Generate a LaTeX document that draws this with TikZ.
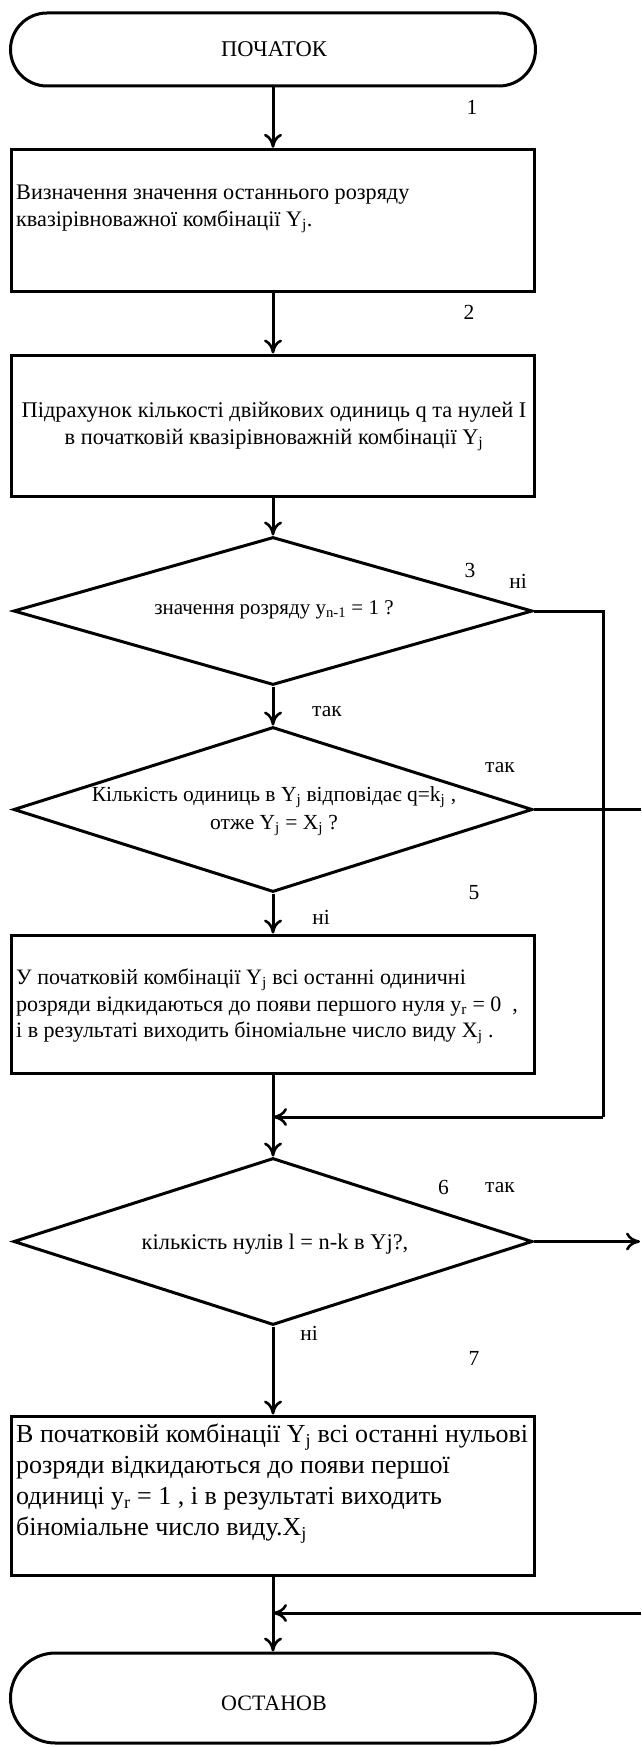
\documentclass[tikz,border=0pt]{standalone}
\usepackage{fontspec}
\setmainfont{Liberation Serif}
\usetikzlibrary{shapes.geometric,arrows.meta}
\tikzset{
  ln/.style={line width=3pt},
  arr/.style={ln,-{Computer Modern Rightarrow[length=14pt,width=18pt,line width=2.6pt]}},
  term/.style={draw,line width=3pt,minimum width=525pt,inner sep=0pt},
  proc/.style={draw,line width=3pt,minimum width=523pt,inner sep=0pt},
  decision/.style={draw,diamond,line width=3pt,minimum width=519pt,inner sep=0pt},
  txt/.style={inner sep=0pt},
  lbl/.style={inner sep=0pt,font=\fontsize{21.5}{25}\selectfont}
}
\begin{document}
\begin{tikzpicture}[x=1pt,y=-1pt]
\useasboundingbox (0,0) rectangle (641,1747);
% terminators
\node[term,rounded corners=36.5pt,minimum height=73pt] (start) at (273,49.5) {};
\node[txt,font=\fontsize{22.5}{26}\selectfont] (startt) at (274,49) {ПОЧАТОК};
\node[term,rounded corners=45pt,minimum height=90pt] (stop) at (273,1698) {};
\node[txt,font=\fontsize{22}{26}\selectfont] (stopt) at (274,1703) {ОСТАНОВ};
% process boxes
\node[proc,minimum height=142.4pt] (b1) at (273,220.5) {};
\node[txt,anchor=west,align=left,font=\fontsize{22.2}{26.5}\selectfont] (b1t) at (16,209) {Визначення значення останнього розряду\\квазірівноважної комбінації Y\textsubscript{j}.};
\node[proc,minimum height=141pt] (b2) at (273,425.5) {};
\node[txt,align=center,font=\fontsize{22.4}{27}\selectfont] (b2t) at (274,426.5) {Підрахунок кількості двійкових одиниць q та нулей I\\в початковій квазірівноважній комбінації Y\textsubscript{j}};
\node[proc,minimum height=138pt] (b3) at (273,1004) {};
\node[txt,anchor=west,align=left,font=\fontsize{22}{26.5}\selectfont] (b3t) at (16,1006.5) {У початковій комбінації Y\textsubscript{j} всі останні одиничні\\розряди відкидаються до появи першого нуля y\textsubscript{r} = 0\ \ ,\\і в результаті виходить біноміальне число виду X\textsubscript{j} .};
\node[proc,minimum height=159pt] (b4) at (273,1495.5) {};
\node[txt,anchor=west,align=left,font=\fontsize{26}{31}\selectfont] (b4t) at (16,1483.5) {В початковій комбінації Y\textsubscript{j} всі останні нульові\\розряди відкидаються до появи першої\\одиниці y\textsubscript{r} = 1 , і в результаті виходить\\біноміальне число виду.X\textsubscript{j}};
% decisions
\node[decision,minimum height=148pt] (d3) at (273,611) {};
\node[txt,font=\fontsize{21}{26}\selectfont] (d3t) at (274,610) {значення розряду y\textsubscript{n-1} = 1 ?};
\node[decision,minimum height=165pt] (d4) at (273,809.5) {};
\node[txt,align=center,font=\fontsize{21.5}{28}\selectfont] (d4t) at (274,811) {Кількість одиниць в Y\textsubscript{j} відповідає q=k\textsubscript{j} ,\\отже Y\textsubscript{j} = X\textsubscript{j} ?};
\node[decision,minimum height=167pt] (d6) at (273,1241.5) {};
\node[txt,font=\fontsize{22.4}{26}\selectfont] (d6t) at (275,1244) {кількість нулів l = n-k в Yj?,};
% helper coordinates
\coordinate (c3r) at (603,611);
\coordinate (c3d) at (603,1117);
\coordinate (j1) at (273,1117);
\coordinate (c4r) at (641,809.5);
\coordinate (c6r) at (640,1241.5);
\coordinate (c7r) at (641,1613);
\coordinate (j2) at (273,1613);
% connectors
\draw[arr] (start.south) -- (b1.north);
\draw[arr] (b1.south) -- (b2.north);
\draw[arr] (b2.south) -- (d3.north);
\draw[arr] (d3.south) -- (d4.north);
\draw[arr] (d4.south) -- (b3.north);
\draw[arr] (b3.south) -- (d6.north);
\draw[arr] (d6.south) -- (b4.north);
\draw[arr] (b4.south) -- (stop.north);
\draw[ln] (d3.east) -- (c3r) -- (c3d);
\draw[arr] (c3d) -- (j1);
\draw[ln] (d4.east) -- (c4r);
\draw[arr] (d6.east) -- (c6r);
\draw[arr] (c7r) -- (j2);
% labels
\node[lbl] (l1) at (472,107) {1};
\node[lbl] (l2) at (469,312) {2};
\node[lbl] (l3) at (470,570) {3};
\node[lbl] (n3) at (518,581) {ні};
\node[lbl] (y3) at (327,712) {так};
\node[lbl] (y4) at (500,768) {так};
\node[lbl] (l5) at (474,893) {5};
\node[lbl] (n4) at (321,917) {ні};
\node[lbl] (l6) at (443.5,1187) {6};
\node[lbl] (y6) at (500,1188) {так};
\node[lbl] (n6) at (309,1333) {ні};
\node[lbl] (l7) at (474,1358) {7};
\end{tikzpicture}
\end{document}
